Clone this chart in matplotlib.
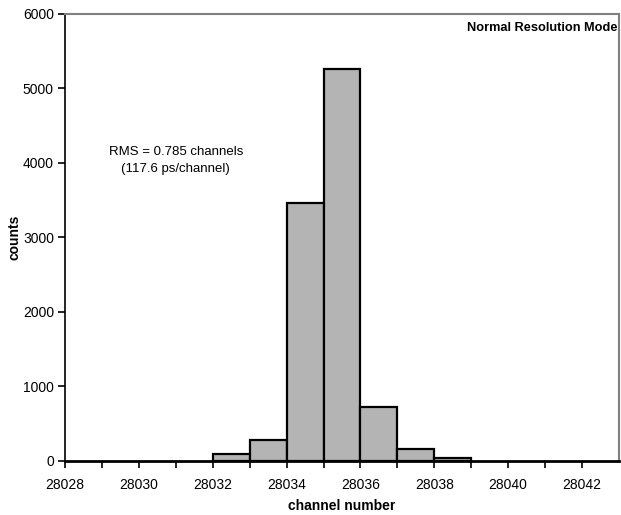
import numpy as np
import matplotlib
matplotlib.use("Agg")
import matplotlib.pyplot as plt

plt.rcParams['font.family'] = ['Liberation Sans', 'DejaVu Sans']

# histogram data (left bin edge -> counts)
channels = [28028, 28029, 28030, 28031, 28032, 28033, 28034, 28035,
            28036, 28037, 28038, 28039, 28040, 28041, 28042]
counts = [0, 0, 0, 0, 100, 280, 3460, 5260, 730, 160, 45, 0, 0, 0, 0]

xtick_vals = [28028, 28030, 28032, 28034, 28036, 28038, 28040, 28042]
ytick_vals = [0, 1000, 2000, 3000, 4000, 5000, 6000]

fig = plt.figure(figsize=(6.21, 5.15), dpi=100)
ax = fig.add_axes([0.1047, 0.1049, 0.892, 0.868])

nz = [i for i, c in enumerate(counts) if c > 0]
ax.bar([channels[i] for i in nz], [counts[i] for i in nz], width=1.0,
       align='edge', color='#b4b4b4', edgecolor='black', linewidth=1.6,
       zorder=2)

ax.set_xlim(28028, 28043)
ax.set_ylim(0, 6000)
ax.set_xticks(xtick_vals)
ax.set_xticks(channels, minor=True)
ax.set_yticks(ytick_vals)
ax.tick_params(axis='both', which='both', direction='out', length=5,
               width=1.2, labelsize=10, colors='black')
ax.tick_params(axis='x', pad=7)
ax.tick_params(axis='y', pad=3)

ax.spines['bottom'].set_linewidth(2.0)
ax.spines['left'].set_linewidth(1.2)
for s in ['top', 'right']:
    ax.spines[s].set_color('#808080')
    ax.spines[s].set_linewidth(1.5)
ax.spines['bottom'].set_zorder(3)

ax.set_xlabel("channel number", fontsize=10, fontweight='bold', labelpad=5)
ax.set_ylabel("counts", fontsize=10, fontweight='bold', labelpad=1)

ax.text(28031.0, 4030, "RMS = 0.785 channels\n(117.6 ps/channel)",
        ha='center', va='center', multialignment='center', fontsize=9.5,
        linespacing=1.55)
ax.text(0.998, 0.969, "Normal Resolution Mode", transform=ax.transAxes,
        ha='right', va='center', fontsize=9.2, fontweight='bold')

fig.savefig("out.png", dpi=100)
